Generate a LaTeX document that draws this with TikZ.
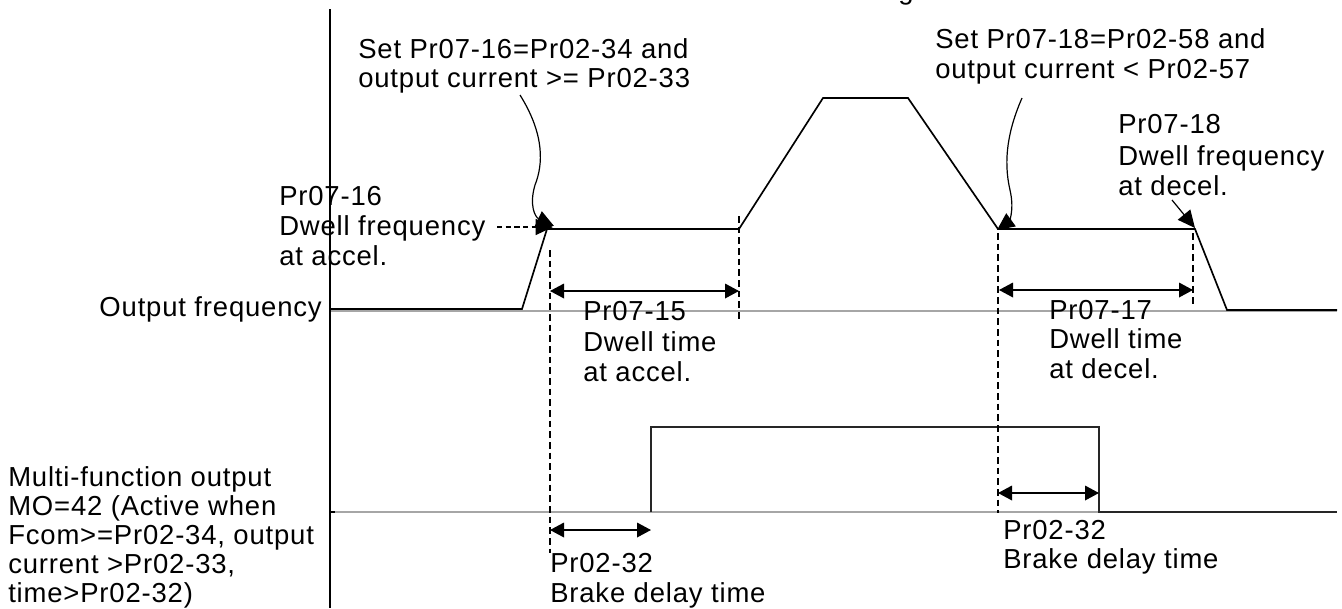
\documentclass[tikz,border=0pt]{standalone}
\usepackage{fontspec}
\setmainfont{Liberation Sans}[LetterSpace=3]
\usetikzlibrary{arrows.meta}
\newcommand\lblfont{\fontsize{20.6pt}{22pt}\selectfont}
\tikzset{
  sig/.style={line width=1.25pt, line join=miter},
  axisgray/.style={draw=black!35, line width=1.4pt},
  vdash/.style={line width=0.9pt, dash pattern=on 5pt off 3pt},
  dimarrow/.style={{Triangle[length=10.5pt,width=11pt]}-{Triangle[length=10.5pt,width=11pt]}, line width=1pt},
  callout/.style={-{Triangle[length=13pt,width=12pt]}, line width=0.9pt},
  txt/.style={anchor=base west, inner sep=0pt, font=\lblfont},
  txtr/.style={anchor=base east, inner sep=0pt, font=\lblfont}
}
\begin{document}
\begin{tikzpicture}[x=0.75pt, y=-0.75pt]
\useasboundingbox (0,0) rectangle (1342,608);
% axis
\coordinate (axT) at (330,9);
\coordinate (axB) at (330,608);
\draw[line width=0.9pt] (axT) -- (axB);
% gray baselines
\coordinate (fb0) at (331,311);
\coordinate (fb1) at (1337,311);
\coordinate (mb0) at (331,512);
\coordinate (mb1) at (1337,512);
\draw[axisgray] (fb0) -- (fb1);
\draw[axisgray] (mb0) -- (mb1);
% output frequency signal
\coordinate (f0) at (330,309);
\coordinate (f1) at (522,309);
\coordinate (f2) at (547,229);
\coordinate (f3) at (739,229);
\coordinate (f4) at (823,98);
\coordinate (f5) at (908,98);
\coordinate (f6) at (998,229);
\coordinate (f7) at (1195,229);
\coordinate (f8) at (1227,310);
\coordinate (f9) at (1337,310);
\draw[sig] (f0) -- (f1) -- (f2) -- (f3) -- (f4) -- (f5) -- (f6) -- (f7) -- (f8) -- (f9);
% MO signal
\coordinate (m0) at (651,512);
\coordinate (m1) at (651,427);
\coordinate (m2) at (1099,427);
\coordinate (m3) at (1099,512);
\coordinate (m4) at (1337,512);
\draw[sig, draw=black!85] (m0) -- (m1) -- (m2) -- (m3) -- (m4);
\draw[line width=0.9pt] (330,512) -- (335,512);
% dashed verticals
\coordinate (d1t) at (550,250); \coordinate (d1b) at (550,553);
\coordinate (d2t) at (739,216); \coordinate (d2b) at (739,320);
\coordinate (d3t) at (998,233); \coordinate (d3b) at (998,513);
\coordinate (d4t) at (1193,233); \coordinate (d4b) at (1193,305);
\draw[vdash] (d1t) -- (d1b);
\draw[vdash] (d2t) -- (d2b);
\draw[vdash] (d3t) -- (d3b);
\draw[vdash] (d4t) -- (d4b);
% dimension arrows
\coordinate (a1l) at (550,291); \coordinate (a1r) at (739,291);
\coordinate (a2l) at (999,290); \coordinate (a2r) at (1193,290);
\coordinate (a3l) at (550,530); \coordinate (a3r) at (651,530);
\coordinate (a4l) at (998,493); \coordinate (a4r) at (1099,493);
\draw[dimarrow] (a1l) -- (a1r);
\draw[dimarrow] (a2l) -- (a2r);
\draw[dimarrow] (a3l) -- (a3r);
\draw[dimarrow] (a4l) -- (a4r);
% texts
\node[txt] (g) at (898,-1) {g};
\node[txt] (sa1) at (358,58) {Set Pr07-16=Pr02-34 and};
\node[txt] (sa2) at (358,87) {output current >= Pr02-33};
\node[txt] (pa1) at (279,205) {Pr07-16};
\node[txt] (pa2) at (279,235) {Dwell frequency};
\node[txt] (pa3) at (279,265) {at accel.};
\node[txtr] (of) at (322,316) {Output frequency};
\node[txt] (da1) at (583,320) {Pr07-15};
\node[txt] (da2) at (583,351) {Dwell time};
\node[txt] (da3) at (583,381) {at accel.};
\node[txt] (sd1) at (935,48) {Set Pr07-18=Pr02-58 and};
\node[txt] (sd2) at (935,78) {output current < Pr02-57};
\node[txt] (pd1) at (1118,133) {Pr07-18};
\node[txt] (pd2) at (1118,165) {Dwell frequency};
\node[txt] (pd3) at (1118,195) {at decel.};
\node[txt] (dd1) at (1049,319) {Pr07-17};
\node[txt] (dd2) at (1049,348) {Dwell time};
\node[txt] (dd3) at (1049,378) {at decel.};
\node[txt] (mo1) at (8,486) {Multi-function output};
\node[txt] (mo2) at (8,515) {MO=42 (Active when};
\node[txt] (mo3) at (8,544) {Fcom>=Pr02-34, output};
\node[txt] (mo4) at (8,573) {current >Pr02-33,};
\node[txt] (mo5) at (8,602) {time>Pr02-32)};
\node[txt] (bl1) at (550,572) {Pr02-32};
\node[txt] (bl2) at (550,602) {Brake delay time};
\node[txt] (br1) at (1003,539) {Pr02-32};
\node[txt] (br2) at (1003,568) {Brake delay time};
% callouts
\coordinate (c1s) at (520,95);
\coordinate (c1e) at (554,226);
\draw[callout] (c1s) .. controls (545,135) and (543,165) .. (535,185) .. controls (529,205) and (535,217) .. (c1e);
\coordinate (c2s) at (497,227);
\coordinate (c2e) at (553,227);
\draw[callout, dash pattern=on 4pt off 2.5pt] (c2s) -- (c2e);
\coordinate (c3s) at (1022,98);
\coordinate (c3e) at (997,230);
\draw[callout] (c3s) .. controls (1008,130) and (1003,160) .. (1010,190) .. controls (1015,212) and (1008,222) .. (c3e);
\coordinate (c4s) at (1172,200);
\coordinate (c4e) at (1195,228);
\draw[callout] (c4s) -- (c4e);
\end{tikzpicture}
\end{document}
